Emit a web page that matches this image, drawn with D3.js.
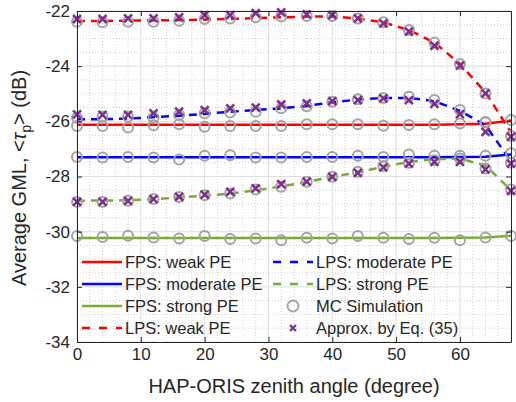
<!DOCTYPE html>
<html>
<head>
<meta charset="utf-8">
<script src="https://cdn.jsdelivr.net/npm/d3@7"></script>
<style>
  body { margin: 0; background: #fff; }
  text { font-family: "Liberation Sans", Arial, Helvetica, sans-serif; fill: #262626; }
</style>
</head>
<body>
<script>

var angles = [0, 4, 8, 12, 16, 20, 24, 28, 32, 36, 40, 44, 48, 52, 56, 60, 64, 68];

// FPS (lines + MC circles)
var fpsWeakLine   = [-26.12, -26.12, -26.12, -26.12, -26.12, -26.12, -26.12, -26.12, -26.12, -26.12, -26.12, -26.12, -26.12, -26.12, -26.12, -26.11, -26.09, -25.97];
var fpsWeakMC     = [-26.17, -26.17, -26.22, -26.14, -26.11, -26.2, -26.17, -26.17, -26.17, -26.11, -26.11, -26.11, -26.16, -26.13, -26.11, -26.08, -26.04, -25.95];
var fpsModLine    = [-27.3, -27.3, -27.3, -27.3, -27.3, -27.3, -27.3, -27.3, -27.3, -27.3, -27.3, -27.3, -27.3, -27.3, -27.3, -27.29, -27.28, -27.2];
var fpsModMC      = [-27.29, -27.31, -27.29, -27.31, -27.38, -27.25, -27.23, -27.31, -27.31, -27.29, -27.29, -27.25, -27.29, -27.2, -27.25, -27.25, -27.25, -27.16];
var fpsStrongLine = [-30.23, -30.23, -30.23, -30.23, -30.23, -30.23, -30.23, -30.23, -30.23, -30.23, -30.23, -30.23, -30.23, -30.23, -30.23, -30.22, -30.21, -30.15];
var fpsStrongMC   = [-30.16, -30.19, -30.15, -30.21, -30.25, -30.16, -30.27, -30.25, -30.31, -30.22, -30.25, -30.16, -30.22, -30.27, -30.22, -30.31, -30.21, -30.16];

// LPS (lines + MC circles + approx crosses)
var lpsWeakLine     = [-22.36, -22.36, -22.35, -22.34, -22.33, -22.31, -22.29, -22.26, -22.23, -22.2, -22.2, -22.27, -22.41, -22.69, -23.14, -23.92, -24.95, -26.4];
var lpsWeakMC       = [-22.39, -22.41, -22.39, -22.39, -22.35, -22.29, -22.27, -22.23, -22.2, -22.18, -22.18, -22.27, -22.41, -22.69, -23.14, -23.92, -24.99, -26.53];
var lpsWeakApprox   = [-22.29, -22.29, -22.27, -22.27, -22.23, -22.15, -22.15, -22.08, -22.05, -22.12, -22.15, -22.27, -22.45, -22.75, -23.26, -23.98, -24.99, -26.56];
var lpsModLine      = [-25.93, -25.92, -25.9, -25.85, -25.8, -25.73, -25.65, -25.59, -25.53, -25.44, -25.31, -25.21, -25.15, -25.15, -25.27, -25.62, -26.14, -27.45];
var lpsModMC        = [-25.87, -25.83, -25.83, -25.87, -25.77, -25.71, -25.68, -25.65, -25.53, -25.45, -25.29, -25.2, -25.15, -25.11, -25.23, -25.59, -26.02, -27.5];
var lpsModApprox    = [-25.75, -25.77, -25.77, -25.71, -25.65, -25.59, -25.53, -25.5, -25.39, -25.35, -25.27, -25.23, -25.17, -25.23, -25.37, -25.74, -26.38, -27.53];
var lpsStrongLine   = [-28.88, -28.87, -28.86, -28.82, -28.76, -28.7, -28.62, -28.5, -28.36, -28.2, -28.01, -27.85, -27.65, -27.47, -27.37, -27.35, -27.6, -28.5];
var lpsStrongMC     = [-28.92, -28.92, -28.88, -28.82, -28.74, -28.68, -28.62, -28.47, -28.37, -28.19, -28.01, -27.83, -27.62, -27.5, -27.41, -27.35, -27.71, -28.47];
var lpsStrongApprox = [-28.92, -28.92, -28.88, -28.82, -28.74, -28.66, -28.56, -28.43, -28.28, -28.19, -28.01, -27.87, -27.67, -27.53, -27.47, -27.47, -27.74, -28.52];

var xTicks = [0, 10, 20, 30, 40, 50, 60];
var yTicks = [-34, -32, -30, -28, -26, -24, -22];

var width = 516,
    height = 402,
    margin = { top: 11, right: 5, bottom: 60, left: 77 };

var x = d3.scaleLinear().domain([0, 68]).range([margin.left, width - margin.right]);
var y = d3.scaleLinear().domain([-34, -22]).range([height - margin.bottom, margin.top]);

var red = "#ff0000", blue = "#0000ff", green = "#77ac30",
    gray = "#a3a3a3", purple = "#7e2f8e";

var series = [
    { name: "FPS: weak PE",     values: fpsWeakLine,     color: red,   dash: null },
    { name: "FPS: moderate PE", values: fpsModLine,      color: blue,  dash: null },
    { name: "FPS: strong PE",   values: fpsStrongLine,   color: green, dash: null },
    { name: "LPS: weak PE",     values: lpsWeakLine,     color: red,   dash: "8,6" },
    { name: "LPS: moderate PE", values: lpsModLine,      color: blue,  dash: "8,6" },
    { name: "LPS: strong PE",   values: lpsStrongLine,   color: green, dash: "8,6" }
];
var mcSets = [fpsWeakMC, fpsModMC, fpsStrongMC, lpsWeakMC, lpsModMC, lpsStrongMC];
var approxSets = [lpsWeakApprox, lpsModApprox, lpsStrongApprox];

var svg = d3.select("body").append("svg")
    .attr("width", width)
    .attr("height", height);

// minor grid (dotted)
var minorX = d3.range(0, 68.01, 2).filter(function(d) { return d % 10 !== 0; });
var minorY = d3.range(-34, -21.99, 0.5).filter(function(d) { return Math.abs(d % 2) > 1e-6; });

svg.append("g").selectAll("line")
    .data(minorX).enter().append("line")
    .attr("x1", function(d) { return x(d); }).attr("x2", function(d) { return x(d); })
    .attr("y1", y(-34)).attr("y2", y(-22))
    .attr("stroke", "#cfcfcf").attr("stroke-width", 1).attr("stroke-dasharray", "1,2");

svg.append("g").selectAll("line")
    .data(minorY).enter().append("line")
    .attr("y1", function(d) { return y(d); }).attr("y2", function(d) { return y(d); })
    .attr("x1", x(0)).attr("x2", x(68))
    .attr("stroke", "#cfcfcf").attr("stroke-width", 1).attr("stroke-dasharray", "1,2");

// major grid
svg.append("g").selectAll("line")
    .data(xTicks).enter().append("line")
    .attr("x1", function(d) { return x(d); }).attr("x2", function(d) { return x(d); })
    .attr("y1", y(-34)).attr("y2", y(-22))
    .attr("stroke", "#dedede").attr("stroke-width", 1);

svg.append("g").selectAll("line")
    .data(yTicks).enter().append("line")
    .attr("y1", function(d) { return y(d); }).attr("y2", function(d) { return y(d); })
    .attr("x1", x(0)).attr("x2", x(68))
    .attr("stroke", "#dedede").attr("stroke-width", 1);

// legend (transparent, drawn under data like the original)
var legend = svg.append("g").attr("class", "legend");
var legRows = [262, 284, 306, 328];
var legItems = [
    { col: 0, row: 0, s: series[0] },
    { col: 0, row: 1, s: series[1] },
    { col: 0, row: 2, s: series[2] },
    { col: 0, row: 3, s: series[3] },
    { col: 1, row: 0, s: series[4] },
    { col: 1, row: 1, s: series[5] }
];
var colX = [82, 273];

legItems.forEach(function(it) {
    var ly = legRows[it.row], lx = colX[it.col];
    legend.append("line")
        .attr("x1", lx).attr("x2", lx + 40)
        .attr("y1", ly).attr("y2", ly)
        .attr("stroke", it.s.color).attr("stroke-width", 2.5)
        .attr("stroke-dasharray", it.s.dash ? "8,9" : null);
    legend.append("text")
        .attr("x", lx + 43).attr("y", ly).attr("dy", "0.35em")
        .style("font-size", "16.5px")
        .text(it.s.name);
});

legend.append("circle")
    .attr("cx", colX[1] + 20).attr("cy", legRows[2]).attr("r", 5.5)
    .attr("fill", "none").attr("stroke", gray).attr("stroke-width", 2);
legend.append("text")
    .attr("x", colX[1] + 43).attr("y", legRows[2]).attr("dy", "0.35em")
    .style("font-size", "16.5px").text("MC Simulation");

legend.append("path")
    .attr("transform", "translate(" + (colX[1] + 20) + "," + legRows[3] + ")")
    .attr("d", "M-3,-3L3,3M-3,3L3,-3")
    .attr("stroke", purple).attr("stroke-width", 2.2).attr("fill", "none");
legend.append("text")
    .attr("x", colX[1] + 43).attr("y", legRows[3]).attr("dy", "0.35em")
    .style("font-size", "16.5px").text("Approx. by Eq. (35)");

// lines
var line = d3.line()
    .x(function(d, i) { return x(angles[i]); })
    .y(function(d) { return y(d); });

svg.append("g").selectAll("path")
    .data(series).enter().append("path")
    .attr("d", function(d) { return line(d.values); })
    .attr("fill", "none")
    .attr("stroke", function(d) { return d.color; })
    .attr("stroke-width", 2.5)
    .attr("stroke-dasharray", function(d) { return d.dash; });

// MC circles
mcSets.forEach(function(vals) {
    svg.append("g").selectAll("circle")
        .data(vals).enter().append("circle")
        .attr("cx", function(d, i) { return x(angles[i]); })
        .attr("cy", function(d) { return y(d); })
        .attr("r", 5)
        .attr("fill", "none")
        .attr("stroke", gray)
        .attr("stroke-width", 2);
});

// approximation crosses
approxSets.forEach(function(vals) {
    svg.append("g").selectAll("path")
        .data(vals).enter().append("path")
        .attr("transform", function(d, i) { return "translate(" + x(angles[i]) + "," + y(d) + ")"; })
        .attr("d", "M-4,-4L4,4M-4,4L4,-4")
        .attr("stroke", purple)
        .attr("stroke-width", 2.5)
        .attr("fill", "none");
});

// axes
function styleAxis(g) {
    g.select(".domain").attr("stroke", "#262626").attr("stroke-width", 1);
    g.selectAll(".tick line").attr("stroke", "#262626");
    g.selectAll(".tick text").style("font-size", "17px").attr("fill", "#262626");
}

svg.append("g")
    .attr("transform", "translate(0," + y(-34) + ")")
    .call(d3.axisBottom(x).tickValues(xTicks).tickSizeInner(-5).tickSizeOuter(0).tickPadding(6))
    .call(styleAxis);

svg.append("g")
    .attr("transform", "translate(0," + y(-22) + ")")
    .call(d3.axisTop(x).tickValues(xTicks).tickSizeInner(-5).tickSizeOuter(0).tickFormat(""))
    .call(styleAxis);

svg.append("g")
    .attr("transform", "translate(" + x(0) + ",0)")
    .call(d3.axisLeft(y).tickValues(yTicks).tickSizeInner(-5).tickSizeOuter(0).tickPadding(7)
        .tickFormat(function(d) { return String(d); }))
    .call(styleAxis);

svg.append("g")
    .attr("transform", "translate(" + x(68) + ",0)")
    .call(d3.axisRight(y).tickValues(yTicks).tickSizeInner(-5).tickSizeOuter(0).tickFormat(""))
    .call(styleAxis);

svg.selectAll(".tick text").attr("font-family", null);
svg.selectAll("g").attr("font-family", null);

// axis labels
svg.append("text")
    .attr("x", (x(0) + x(68)) / 2)
    .attr("y", 393)
    .attr("text-anchor", "middle")
    .style("font-size", "20px")
    .text("HAP-ORIS zenith angle (degree)");

var yl = svg.append("text")
    .attr("transform", "translate(26,178) rotate(-90)")
    .attr("text-anchor", "middle")
    .style("font-size", "20px");
yl.append("tspan").text("Average GML, <");
yl.append("tspan").style("font-style", "italic").text("τ");
yl.append("tspan").attr("dy", 5).style("font-size", "14px").text("p");
yl.append("tspan").attr("dy", -5).text("> (dB)");

</script>
</body>
</html>
